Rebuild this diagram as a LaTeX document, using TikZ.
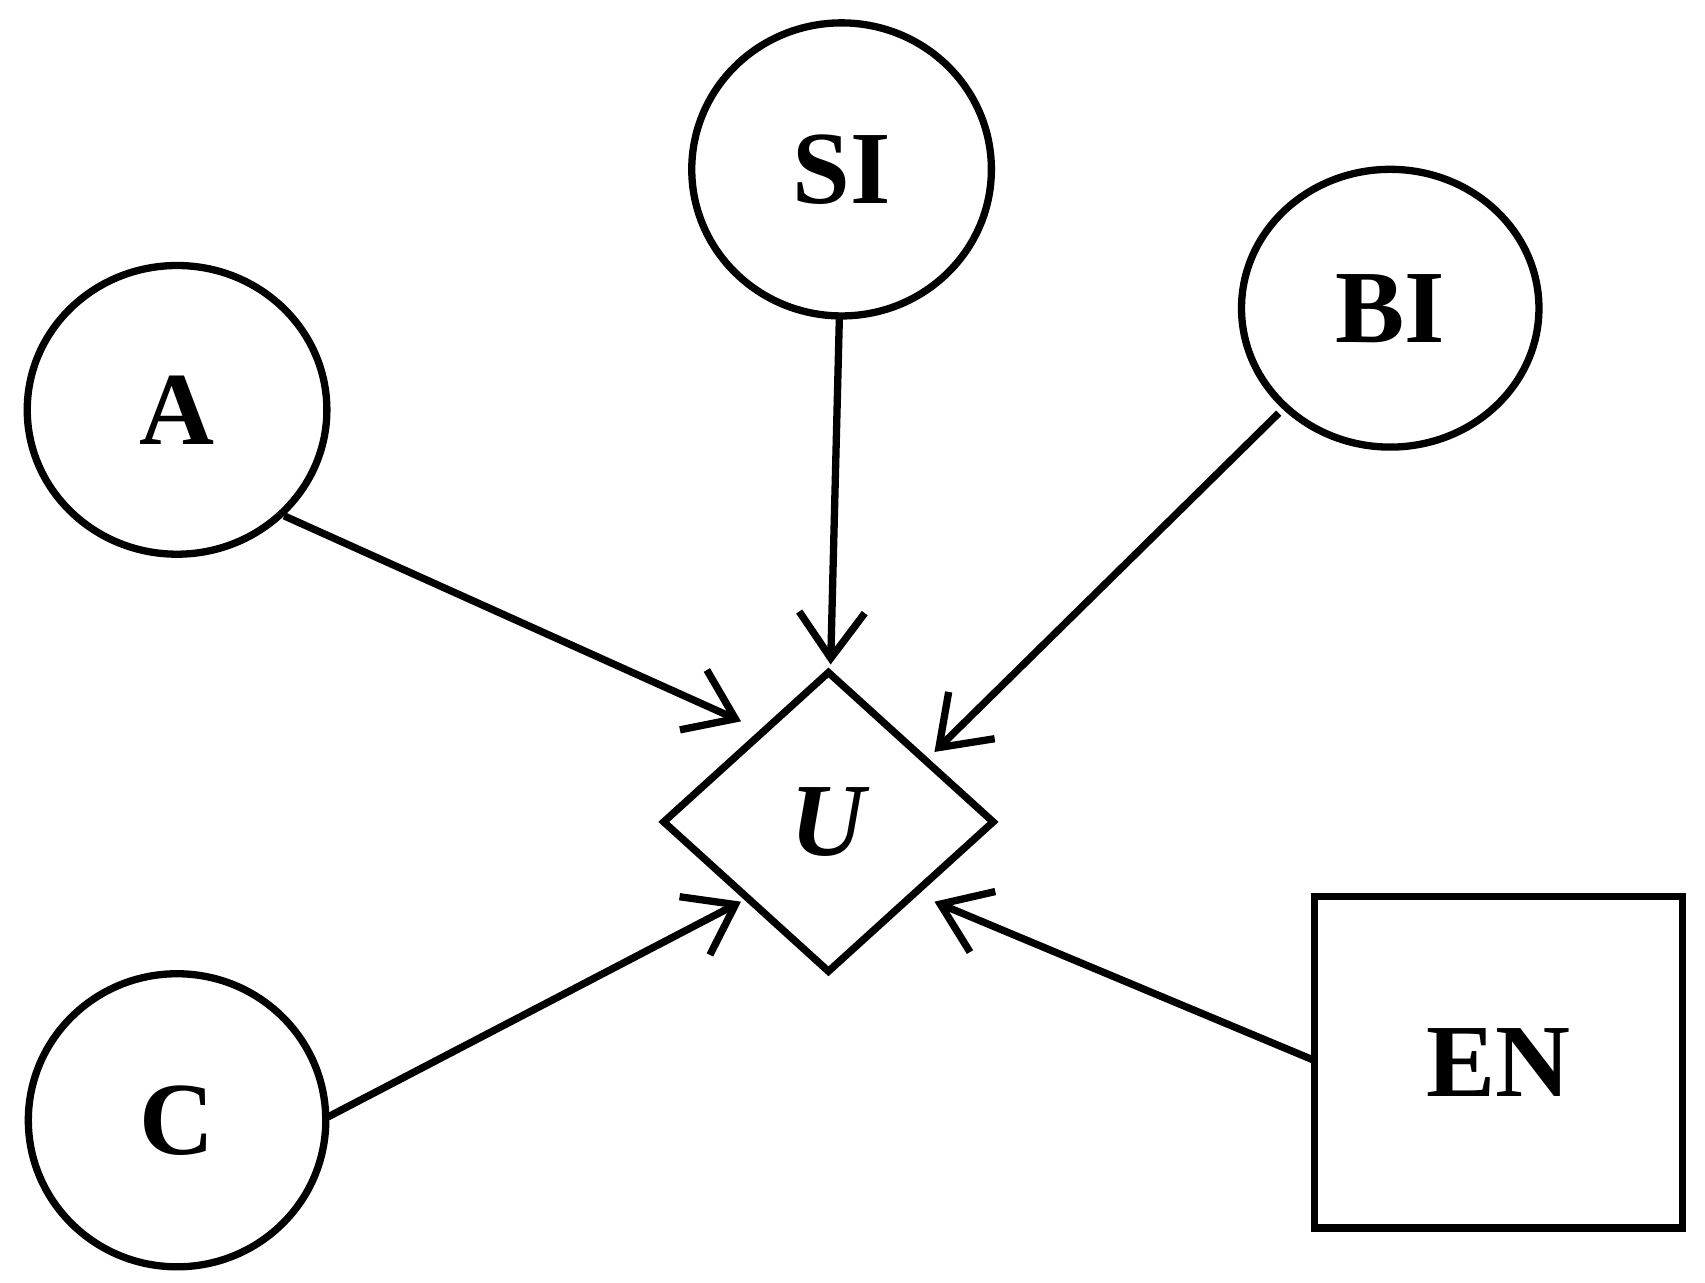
\documentclass[tikz,border=0pt]{standalone}
\usepackage{fontspec}
\setmainfont{Liberation Serif}
\usetikzlibrary{shapes.geometric,arrows.meta}
\begin{document}
\begin{tikzpicture}[x=0.01cm,y=-0.01cm,
  every node/.style={line width=1.9pt,font=\fontsize{27}{30}\selectfont\bfseries,inner sep=0pt},
  circ/.style={draw,ellipse},
  conn/.style={line width=1.9pt,-{Straight Barb[length=0.42cm,width=0.6cm,line width=1.9pt]}}]
\useasboundingbox (0,0) rectangle (1560,1173);
\node[circ,minimum width=2.74cm,minimum height=2.68cm] (SI) at (770,155) {SI};
\node[circ,minimum width=2.74cm,minimum height=2.64cm] (A) at (162,375) {A};
\node[circ,minimum width=2.72cm,minimum height=2.54cm] (BI) at (1272,282) {BI};
\node[circ,minimum width=2.72cm,minimum height=2.68cm] (C) at (162,1025) {C};
\node[draw,diamond,minimum width=3.04cm,minimum height=2.76cm] (U) at (758,752) {\itshape U};
\node[draw,minimum width=3.36cm,minimum height=3.03cm] (EN) at (1371,972) {EN};
\coordinate (a1) at (260,472); \coordinate (a2) at (678,660);
\coordinate (s1) at (768,290); \coordinate (s2) at (760,608);
\coordinate (b1) at (1170,378); \coordinate (b2) at (855,688);
\coordinate (c1) at (300,1022); \coordinate (c2) at (678,825);
\coordinate (e1) at (1202,970); \coordinate (e2) at (855,825);
\draw[conn] (a1) -- (a2);
\draw[conn] (s1) -- (s2);
\draw[conn] (b1) -- (b2);
\draw[conn] (c1) -- (c2);
\draw[conn] (e1) -- (e2);
\end{tikzpicture}
\end{document}
